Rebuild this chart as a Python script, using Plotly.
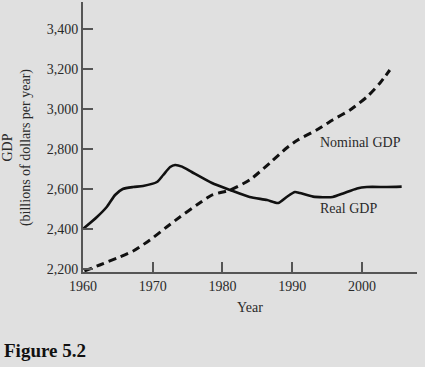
import plotly.graph_objects as go

# Real GDP (solid)
real_years = [1960.0, 1962.0, 1963.4, 1964.6, 1965.7, 1967.2, 1968.6, 1970.6, 1971.5, 1972.5,
              1973.2, 1974.2, 1975.6, 1978.5, 1981.1, 1983.9, 1986.4, 1988.0, 1989.2,
              1990.4, 1991.1, 1993.0, 1995.8, 1997.3, 1999.3, 2000.7, 2003.6, 2005.7]
real_gdp = [2400, 2460, 2510, 2570, 2600, 2610, 2615, 2635, 2670, 2710,
            2720, 2712, 2685, 2630, 2595, 2560, 2545, 2530, 2560,
            2585, 2580, 2562, 2560, 2578, 2603, 2610, 2610, 2612]

# Nominal GDP (dashed)
nom_years = [1960.2, 1962.4, 1964.9, 1967.2, 1969.6, 1972.0, 1973.9, 1976.3, 1978.5, 1981.1,
             1983.9, 1986.8, 1989.2, 1990.8, 1993.5, 1995.8, 1998.3, 2000.7, 2002.6, 2004.0]
nom_gdp = [2190, 2220, 2255, 2290, 2345, 2410, 2460, 2520, 2570, 2595,
           2645, 2730, 2805, 2845, 2895, 2945, 2995, 3060, 3130, 3195]

x_ticks = [1960, 1970, 1980, 1990, 2000]
y_ticks = [2200, 2400, 2600, 2800, 3000, 3200, 3400]

FONT = "Liberation Serif"
TXT = "#2a2a2a"
BG = "#e0e0e0"
FS = 14

fig = go.Figure()
fig.add_trace(go.Scatter(x=real_years, y=real_gdp, mode="lines",
                         line=dict(color="#111111", width=2.6, shape="spline", smoothing=0.6),
                         name="Real GDP", showlegend=False, hoverinfo="skip"))
fig.add_trace(go.Scatter(x=nom_years, y=nom_gdp, mode="lines",
                         line=dict(color="#111111", width=3, dash="8px,5px", shape="spline", smoothing=0.6),
                         name="Nominal GDP", showlegend=False, hoverinfo="skip"))

fig.update_layout(
    width=425, height=367,
    margin=dict(l=83, r=8, t=2, b=95),
    paper_bgcolor=BG, plot_bgcolor=BG,
    font=dict(family=FONT, color=TXT, size=FS),
    xaxis=dict(range=[1960, 2007.9], tickvals=x_ticks, ticks="inside", ticklen=10,
               tickwidth=1.5, tickcolor="#555555", showline=True, linecolor="#555555",
               linewidth=2, showgrid=False, zeroline=False,
               tickfont=dict(family=FONT, size=FS, color=TXT), fixedrange=True),
    yaxis=dict(range=[2185, 3535], tickvals=y_ticks, tickformat=",d", ticks="inside",
               ticklen=10, tickwidth=1.5, tickcolor="#555555", showline=True,
               linecolor="#555555", linewidth=2, showgrid=False, zeroline=False,
               tickfont=dict(family=FONT, size=FS, color=TXT), fixedrange=True),
    annotations=[
        dict(text="Nominal GDP", x=1993.7, y=2835, xref="x", yref="y", xanchor="left",
             yanchor="middle", showarrow=False, font=dict(family=FONT, size=FS, color=TXT)),
        dict(text="Real GDP", x=1993.7, y=2505, xref="x", yref="y", xanchor="left",
             yanchor="middle", showarrow=False, font=dict(family=FONT, size=FS, color=TXT)),
        dict(text="GDP<br>(billions of dollars per year)", x=0, xshift=-66, y=0.459,
             xref="paper", yref="paper", xanchor="center", yanchor="middle", textangle=-90,
             showarrow=False, font=dict(family=FONT, size=FS, color=TXT)),
        dict(text="Year", x=0.5, y=-0.133, xref="paper", yref="paper", xanchor="center",
             yanchor="middle", showarrow=False, font=dict(family=FONT, size=FS, color=TXT)),
        dict(text="<b>Figure 5.2</b>", x=-0.2425, y=-0.289, xref="paper", yref="paper",
             xanchor="left", yanchor="middle", showarrow=False,
             font=dict(family=FONT, size=19, color="#111111")),
    ],
)

fig.write_html("out.html", config={"displayModeBar": False},
               post_script="document.body.style.margin='0';document.body.style.overflow='hidden';")
